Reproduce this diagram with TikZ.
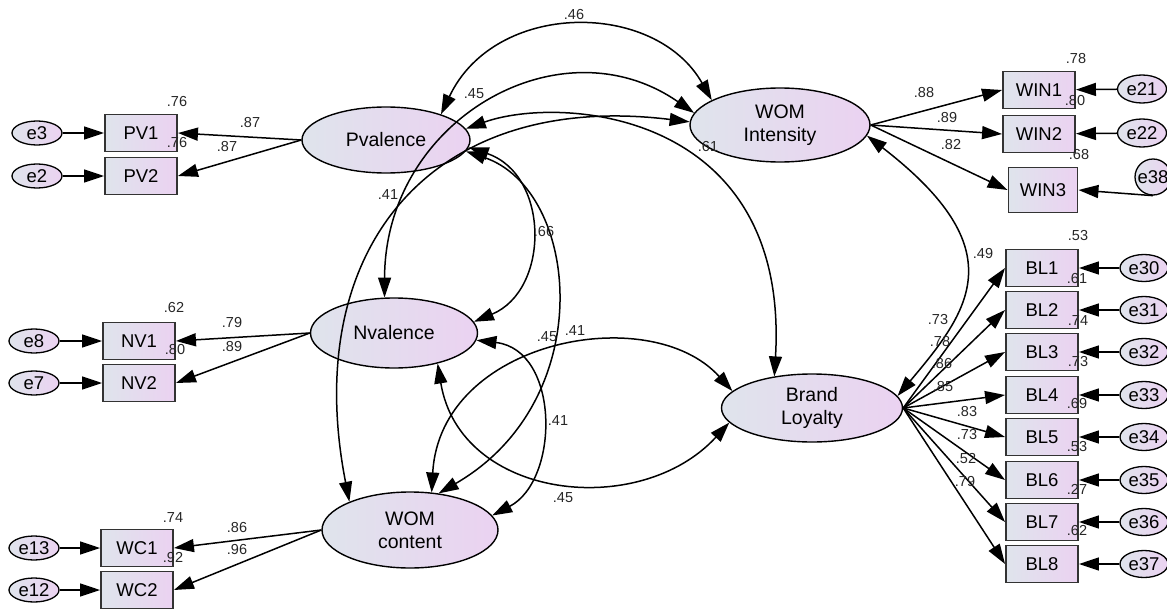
\documentclass[tikz,border=0pt]{standalone}
\usepackage{fontspec}
\setmainfont{Liberation Sans}
\usetikzlibrary{arrows.meta,shapes.geometric}
\definecolor{shL}{HTML}{DFE4EC}
\definecolor{shR}{HTML}{EBD2F1}
\tikzset{
  every node/.style={font=\fontsize{18.5}{23}\selectfont},
  latent/.style={ellipse, draw=black, line width=1.4pt, left color=shL, right color=shR, inner sep=0pt, align=center, font=\fontsize{19.5}{23}\selectfont},
  obs/.style={rectangle, draw=black!80, line width=1.9pt, left color=shL, right color=shR, minimum width=72pt, minimum height=37pt, inner sep=0pt},
  err/.style={ellipse, draw=black, line width=1.3pt, left color=shL, right color=shR, minimum width=50pt, minimum height=24pt, inner sep=0pt},
  lbl/.style={font=\fontsize{14.5}{16}\selectfont, inner sep=0pt, text=black!85},
  ld/.style={line width=1.5pt, -{Triangle[length=20pt,width=13pt]}},
  cv/.style={line width=1.5pt, {Triangle[length=20pt,width=13pt]}-{Triangle[length=20pt,width=13pt]}},
}
\begin{document}
\begin{tikzpicture}[x=1pt,y=-1pt]
\useasboundingbox (0,0) rectangle (1167,610);
% latent variables
\node[latent, minimum width=168pt, minimum height=66pt] (Pval) at (386,140) {Pvalence};
\node[latent, minimum width=167pt, minimum height=70pt] (Nval) at (394,333) {Nvalence};
\node[latent, minimum width=176pt, minimum height=76pt] (WC) at (410,530) {WOM\\content};
\node[latent, minimum width=180pt, minimum height=74pt] (WI) at (780,125) {WOM\\Intensity};
\node[latent, minimum width=181pt, minimum height=68pt] (BLat) at (812,408) {Brand\\Loyalty};
% observed
\node[obs] (PV1) at (141,133) {PV1};
\node[obs] (PV2) at (141,176) {PV2};
\node[obs] (NV1) at (139,341) {NV1};
\node[obs] (NV2) at (139,383) {NV2};
\node[obs] (WC1) at (137,548) {WC1};
\node[obs] (WC2) at (137,590) {WC2};
\node[obs] (WIN1) at (1039,90) {WIN1};
\node[obs] (WIN2) at (1039,134) {WIN2};
\node[obs, minimum width=69pt, minimum height=45pt] (WIN3) at (1043,190) {WIN3};
\foreach \i/\y in {1/268,2/310,3/352,4/395,5/437,6/480,7/522,8/564}
  \node[obs] (BL\i) at (1042,\y) {BL\i};
% errors
\node[err] (e3) at (37,133) {e3};
\node[err] (e2) at (37,176) {e2};
\node[err] (e8) at (34,341) {e8};
\node[err] (e7) at (34,383) {e7};
\node[err] (e13) at (34,548) {e13};
\node[err] (e12) at (34,590) {e12};
\node[err, minimum width=49pt, minimum height=28pt] (e21) at (1142,89) {e21};
\node[err, minimum width=49pt, minimum height=28pt] (e22) at (1142,133) {e22};
\node[err, minimum width=36pt, minimum height=36pt, label={center:e38}] (e38) at (1153,177) {};
\foreach \i/\y in {30/268,31/310,32/352,33/395,34/437,35/480,36/522,37/564}
  \node[err, minimum width=48pt, minimum height=27pt] (e\i) at (1144,\y) {e\i};
% loadings
\draw[ld] (Pval.west) -- (PV1.east);
\draw[ld] (Pval.west) -- (PV2.east);
\draw[ld] (Nval.west) -- (NV1.east);
\draw[ld] (Nval.west) -- (NV2.east);
\draw[ld] (WC.west) -- (WC1.east);
\draw[ld] (WC.west) -- (WC2.east);
\draw[ld] (WI.east) -- (WIN1.west);
\draw[ld] (WI.east) -- (WIN2.west);
\draw[ld] (WI.east) -- (WIN3.west);
\foreach \i in {1,...,8} \draw[ld] (BLat.east) -- (BL\i.west);
% error paths
\draw[ld] (e3) -- (PV1);
\draw[ld] (e2) -- (PV2);
\draw[ld] (e8) -- (NV1);
\draw[ld] (e7) -- (NV2);
\draw[ld] (e13) -- (WC1);
\draw[ld] (e12) -- (WC2);
\draw[ld] (e21) -- (WIN1);
\draw[ld] (e22) -- (WIN2);
\draw[ld] (e38.south) -- (WIN3.east);
\foreach \i/\e in {1/30,2/31,3/32,4/33,5/34,6/35,7/36,8/37} \draw[ld] (e\e) -- (BL\i);
% covariances
\draw[cv] (Pval.25) .. controls (495,0) and (655,0) .. (WI.160);
\draw[cv] (Nval.105) .. controls (385,120) and (560,20) .. (WI.172);
\draw[cv] (WC.155) .. controls (300,250) and (430,90) .. (WI.178);
\draw[cv] (Pval.8) .. controls (560,95) and (790,110) .. (BLat.140);
\draw[cv] (Pval.-5) .. controls (550,175) and (550,290) .. (Nval.8);
\draw[cv] (Pval.-8) .. controls (580,190) and (600,400) .. (WC.52);
\draw[cv] (Nval.-5) .. controls (560,350) and (560,480) .. (WC.10);
\draw[cv] (Nval.-35) .. controls (460,500) and (640,520) .. (BLat.190);
\draw[cv] (WC.60) .. controls (440,340) and (650,300) .. (BLat.168);
\draw[cv] (WI.-7) .. controls (1015,250) and (970,310) .. (BLat.8);
% labels
\foreach \n/\x/\y/\t in {
 1/177/102/.76, 2/177/143/.76, 3/250/123/.87, 4/227/147/.87,
 5/174/308/.62, 6/232/323/.79, 7/175/350/.80, 8/232/347/.89,
 9/173/518/.74, 10/237/528/.86, 11/173/558/.92, 12/237/550/.96,
 13/574/15/.46, 14/474/94/.45, 15/708/147/.61, 16/388/195/.41,
 17/544/232/.66, 18/547/337/.45, 19/575/331/.41, 20/558/421/.41,
 21/563/498/.45, 22/924/93/.88, 23/947/118/.89, 24/951/145/.82,
 25/1076/59/.78, 26/1075/101/.80, 27/1079/155/.68, 28/1078/236/.53,
 29/983/254/.49, 30/938/320/.73, 31/940/342/.78, 32/942/364/.86,
 33/943/387/.85, 34/967/412/.83, 35/967/435/.73, 36/966/459/.52,
 37/965/482/.79, 38/1077/279/.61, 39/1078/321/.74, 40/1078/362/.73,
 41/1077/404/.69, 42/1077/447/.53, 43/1077/489/.27, 44/1077/531/.62}
  \node[lbl] (L\n) at (\x,\y) {\t};
\end{tikzpicture}
\end{document}
